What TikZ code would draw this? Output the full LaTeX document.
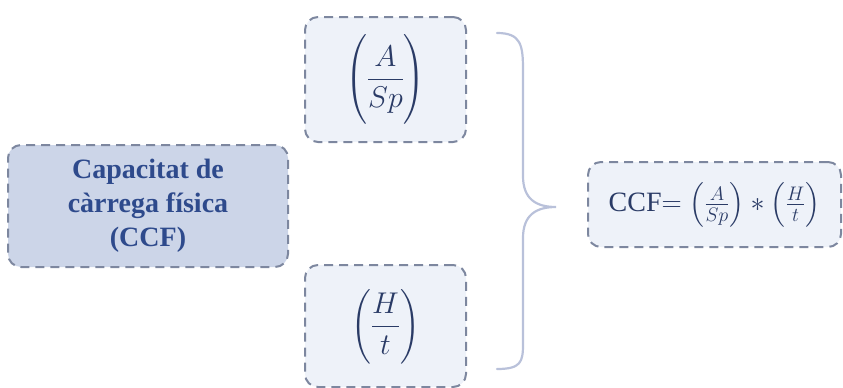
\RequirePackage{fix-cm}
\documentclass[tikz,border=0pt]{standalone}
\usepackage{amsmath}
\usepackage{fontspec}
\setmainfont{Liberation Serif}
\definecolor{dashc}{HTML}{7D879F}
\definecolor{darkfill}{HTML}{CCD5E8}
\definecolor{lightfill}{HTML}{EEF2F9}
\definecolor{titlec}{HTML}{2E4A8C}
\definecolor{mathc}{HTML}{2A3B66}
\definecolor{bracec}{HTML}{B9C1DA}
\newcommand\mystrut[2]{\vrule width 0pt height #1 depth #2\relax}
\begin{document}
\begin{tikzpicture}[x=1pt,y=-1pt,
  box/.style={draw=dashc, line width=2pt, dash pattern=on 9pt off 6pt, rounded corners=13pt, inner sep=0pt, align=center},
  darkbox/.style={box, fill=darkfill, text=titlec, font=\fontsize{28}{34}\selectfont\bfseries},
  lightbox/.style={box, fill=lightfill, text=mathc, font=\fontsize{30}{34}\selectfont},
  bracestyle/.style={draw=bracec, line width=2.2pt, line cap=round}]
\useasboundingbox (0,0) rectangle (843,388);
\node[darkbox, minimum width=280pt, minimum height=122pt] (ccf) at (148,206) {Capacitat de\\càrrega física\\(CCF)};
\node[lightbox, minimum width=161pt, minimum height=125pt] (asp) at (385.5,79.5) {$\left(\mystrut{50pt}{34pt}\dfrac{A}{Sp}\right)$};
\node[lightbox, minimum width=161pt, minimum height=122pt] (ht) at (385.5,326) {$\left(\mystrut{46pt}{29pt}\dfrac{H}{t}\right)$};
\node[lightbox, minimum width=253pt, minimum height=85pt, font=\fontsize{28}{30}\selectfont] (eq) at (714.5,204.5) {CCF$=\left(\mystrut{19pt}{12pt}\frac{A}{Sp}\right)*\left(\mystrut{19pt}{12pt}\frac{H}{t}\right)$};
\coordinate (btop) at (497,33);
\coordinate (btip) at (556,207);
\coordinate (bbot) at (497,369);
\draw[bracestyle] (btop) .. controls (521,33) and (523,45) .. (523,70) -- (523,176)
  .. controls (523,199) and (536,207) .. (btip)
  .. controls (536,207) and (523,215) .. (523,238) -- (523,344)
  .. controls (523,362) and (521,369) .. (bbot);
\end{tikzpicture}
\end{document}
